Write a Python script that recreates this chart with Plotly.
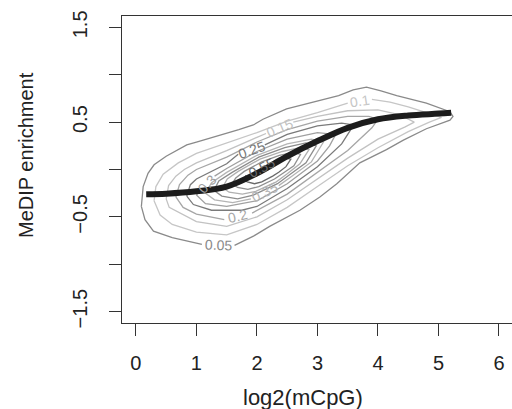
import math
import plotly.graph_objects as go

# ---------------- data ----------------
levels = [0.05, 0.1, 0.15, 0.2, 0.25, 0.3, 0.35, 0.4, 0.45, 0.5, 0.55]

# contour polylines (None marks the gap where the level label sits)
c05_x = [0.09, 0.12, 0.2, 0.3, 0.5, 0.84, 1.0, 1.39, 1.7, 1.94, 2.1, 2.49, 2.8, 3.04, 3.35, 3.59, 3.81, 4.05, 4.31, 4.8, 5.19, 5.24, 5.19, 4.8, 4.42, 4.14, 3.7, 3.32, 3.04, 2.71, 2.21, 1.95, 1.63, None, 1.09, 0.6, 0.29, 0.15, 0.09]
c05_y = [-0.39, -0.18, -0.04, 0.05, 0.14, 0.26, 0.29, 0.36, 0.42, 0.47, 0.53, 0.64, 0.69, 0.73, 0.78, 0.84, 0.87, 0.83, 0.78, 0.70, 0.61, 0.56, 0.52, 0.43, 0.31, 0.21, 0.07, -0.15, -0.29, -0.43, -0.6, -0.7, -0.8, None, -0.79, -0.72, -0.65, -0.53, -0.39]

c10_x = [0.3, 0.33, 0.45, 0.7, 1.0, 1.5, 2.0, 2.5, 3.0, 3.5, None, 3.9, 4.2, 4.5, 4.8, 5.05, 4.85, 4.5, 4.0, 3.5, 3.0, 2.5, 2.0, 1.5, 1.0, 0.6, 0.4, 0.3]
c10_y = [-0.33, -0.18, -0.05, 0.07, 0.17, 0.28, 0.39, 0.51, 0.6, 0.7, None, 0.74, 0.71, 0.66, 0.6, 0.55, 0.5, 0.4, 0.23, 0.04, -0.18, -0.4, -0.58, -0.69, -0.66, -0.58, -0.48, -0.33]

c15_x = [0.5, 0.54, 0.66, 0.8, 1.0, 1.5, 2.0, 2.15, None, 2.6, 3.0, 3.5, 4.0, 4.35, 4.6, 4.45, 4.0, 3.5, 3.0, 2.5, 2.0, 1.5, 1.0, 0.72, 0.55, 0.5]
c15_y = [-0.31, -0.17, -0.07, 0.0, 0.07, 0.2, 0.34, 0.38, None, 0.5, 0.56, 0.62, 0.63, 0.58, 0.5, 0.45, 0.32, 0.12, -0.1, -0.32, -0.5, -0.6, -0.55, -0.46, -0.4, -0.31]

c20_x = [0.66, 0.72, 0.86, 1.0, 1.5, 2.0, 2.5, 3.0, 3.5, 3.85, 4.0, 3.9, 3.5, 3.0, 2.5, 1.92, None, 1.46, 1.0, 0.78, 0.66]
c20_y = [-0.29, -0.16, -0.06, 0.0, 0.13, 0.29, 0.42, 0.51, 0.56, 0.56, 0.53, 0.44, 0.2, -0.03, -0.26, -0.46, None, -0.53, -0.47, -0.4, -0.29]

c25_x = [0.84, 0.9, 1.0, 1.25, 1.5, 1.69, None, 2.13, 2.5, 3.0, 3.4, 3.6, 3.4, 3.0, 2.5, 2.0, 1.75, 1.25, 0.95, 0.84]
c25_y = [-0.28, -0.16, -0.1, -0.02, 0.06, 0.16, None, 0.26, 0.37, 0.46, 0.49, 0.47, 0.27, 0.03, -0.2, -0.39, -0.43, -0.43, -0.37, -0.28]

c30_x = [1.0, 1.05, None, 1.3, 1.5, 2.0, 2.5, 3.0, 3.3, 3.2, 3.0, 2.5, 2.0, 1.5, 1.15, 1.0]
c30_y = [-0.27, -0.23, None, -0.07, 0.01, 0.19, 0.32, 0.39, 0.37, 0.25, 0.09, -0.15, -0.33, -0.39, -0.36, -0.27]

c35_x = [1.15, 1.25, 1.5, 2.0, 2.5, 2.9, 3.1, 2.9, 2.6, 2.36, None, 1.9, 1.6, 1.3, 1.15]
c35_y = [-0.25, -0.14, -0.03, 0.15, 0.27, 0.32, 0.29, 0.08, -0.06, -0.17, None, -0.31, -0.35, -0.32, -0.25]

c40_x = [1.29, 1.37, 1.59, 2.03, 2.46, 2.81, 2.98, 2.81, 2.55, 2.34, 1.94, 1.68, 1.42, 1.29]
c40_y = [-0.22, -0.12, -0.03, 0.13, 0.23, 0.28, 0.25, 0.07, -0.05, -0.15, -0.27, -0.31, -0.28, -0.22]

c45_x = [1.43, 1.51, 1.69, 2.05, 2.42, 2.71, 2.86, 2.71, 2.49, 2.32, 1.98, 1.76, 1.54, 1.43]
c45_y = [-0.19, -0.1, -0.02, 0.11, 0.19, 0.23, 0.21, 0.06, -0.05, -0.13, -0.23, -0.26, -0.24, -0.19]

c50_x = [1.59, 1.65, 1.79, 2.08, 2.37, 2.61, 2.72, 2.61, 2.43, 2.29, 2.03, 1.85, 1.68, 1.59]
c50_y = [-0.15, -0.09, -0.02, 0.08, 0.15, 0.18, 0.16, 0.04, -0.04, -0.1, -0.18, -0.21, -0.19, -0.15]

c55_x = [2.32, 2.48, 2.56, 2.48, 2.36, 2.26, 2.08, 1.96, 1.84, 1.78, 1.82, None, 2.32]
c55_y = [0.1, 0.12, 0.11, 0.03, -0.03, -0.07, -0.13, -0.15, -0.13, -0.11, -0.06, None, 0.1]

# smooth fitted curve
fit_x = [0.17, 0.5, 1.0, 1.5, 2.0, 2.5, 3.0, 3.5, 4.0, 4.5, 5.0, 5.21]
fit_y = [-0.26, -0.255, -0.23, -0.18, -0.04, 0.14, 0.3, 0.44, 0.53, 0.57, 0.59, 0.6]

xtick_vals = [0, 1, 2, 3, 4, 5, 6]
ytick_vals = [-1.5, -1.0, -0.5, 0.0, 0.5, 1.0, 1.5]
ytick_text = ["\u22121.5", "", "\u22120.5", "", "0.5", "", "1.5"]

x_title = "log2(mCpG)"
y_title = "MeDIP enrichment"

# ---------------- styles ----------------
contours_x = [c05_x, c10_x, c15_x, c20_x, c25_x, c30_x, c35_x, c40_x, c45_x, c50_x, c55_x]
contours_y = [c05_y, c10_y, c15_y, c20_y, c25_y, c30_y, c35_y, c40_y, c45_y, c50_y, c55_y]
level_colors = ["#8a8a8a", "#c6c6c6", "#c2c2c2", "#a6a6a6", "#7a7a7a", "#a0a0a0",
                "#b4b4b4", "#8c8c8c", "#b0b0b0", "#909090", "#6a6a6a"]

FONT = "Liberation Sans, Arial, Helvetica, sans-serif"
W, H = 512, 409
ML, MR, MT, MB = 122, 0, 16, 86
X0, X1 = -0.23, 6.215
Y0, Y1 = -1.62, 1.62
sx = (W - ML - MR) / (X1 - X0)
sy = (H - MT - MB) / (Y1 - Y0)

fig = go.Figure()
annotations = []

for lev, xs, ys, col in zip(levels, contours_x, contours_y, level_colors):
    fig.add_trace(go.Scatter(x=xs, y=ys, mode="lines", line=dict(color=col, width=1.3),
                             hoverinfo="skip", showlegend=False, connectgaps=False))
    if None in xs:
        i = xs.index(None)
        xa, ya, xb, yb = xs[i - 1], ys[i - 1], xs[i + 1], ys[i + 1]
        ang = math.degrees(math.atan2(-(yb - ya) * sy, (xb - xa) * sx))
        if ang > 90:
            ang -= 180
        if ang < -90:
            ang += 180
        annotations.append(dict(x=(xa + xb) / 2, y=(ya + yb) / 2, xref="x", yref="y",
                                text=f"{lev:g}", showarrow=False, textangle=ang,
                                font=dict(family=FONT, size=14, color=col),
                                xanchor="center", yanchor="middle"))

fig.add_trace(go.Scatter(x=fit_x, y=fit_y, mode="lines",
                         line=dict(color="#1c1c1c", width=6, shape="spline", smoothing=1.0),
                         hoverinfo="skip", showlegend=False))

pw = W - ML - MR
ph = H - MT - MB
annotations.append(dict(x=(303 - ML) / pw, y=(H - MB - 397) / ph, xref="paper", yref="paper",
                        text=x_title, showarrow=False, xanchor="center", yanchor="middle",
                        font=dict(family=FONT, size=22, color="#222")))
annotations.append(dict(x=(26 - ML) / pw, y=(H - MB - 155) / ph, xref="paper", yref="paper",
                        text=y_title, showarrow=False, xanchor="center", yanchor="middle",
                        textangle=-90, font=dict(family=FONT, size=20, color="#222")))

axis_common = dict(showgrid=False, zeroline=False, showline=True, linecolor="#333",
                   linewidth=1, ticks="outside", ticklen=12, tickwidth=1,
                   tickcolor="#333", tickfont=dict(family=FONT, size=20, color="#222"))

fig.update_layout(
    width=W, height=H,
    margin=dict(l=ML, r=MR, t=MT, b=MB, pad=0),
    paper_bgcolor="white", plot_bgcolor="white",
    xaxis=dict(range=[X0, X1], tickvals=xtick_vals, ticklabelstandoff=10, mirror=True,
               **axis_common),
    yaxis=dict(range=[Y0, Y1], tickvals=ytick_vals, ticktext=ytick_text, tickangle=-90,
               ticklabelstandoff=14, mirror=False, **axis_common),
    annotations=annotations,
)

fig.write_html("out.html", config={"displayModeBar": False, "staticPlot": True},
               post_script="document.body.style.margin='0';document.body.style.padding='0';")
